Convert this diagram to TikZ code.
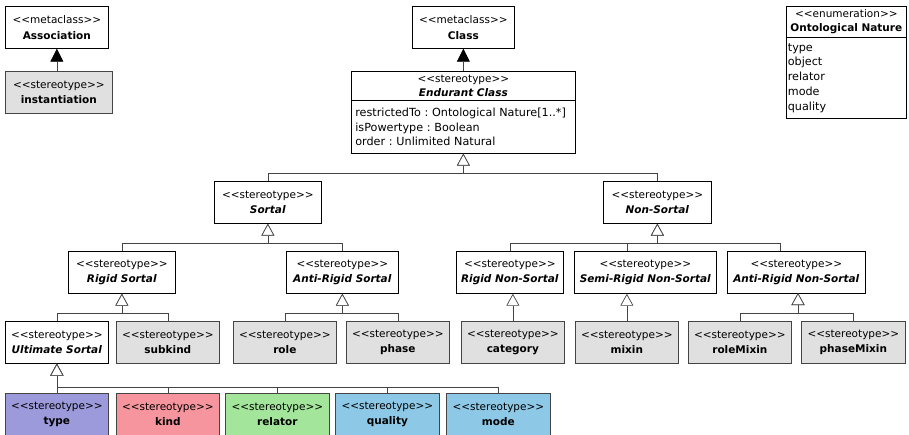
\documentclass[tikz,border=0pt]{standalone}
\usepackage{fontspec}
\setmainfont{DejaVu Sans}
\usetikzlibrary{arrows.meta}
\frenchspacing

% stereotype label: the kerns stop << and >> from becoming guillemet ligatures
\newcommand\stlabel[1]{<\kern0pt<#1>\kern0pt>}

\definecolor{boxgray}{HTML}{E0E0E0}
\definecolor{typefill}{HTML}{9C9ADB}
\definecolor{kindfill}{HTML}{F7959E}
\definecolor{relatorfill}{HTML}{A3E59B}
\definecolor{qualityfill}{HTML}{8DC8E6}
\definecolor{linegray}{HTML}{444444}

\tikzset{
  cls/.style={draw=black, line width=0.7pt, anchor=north west, align=center,
    inner sep=0pt, minimum height=42, fill=white,
    font=\fontsize{10.5}{15.5}\selectfont},
  stbox/.style={cls, fill=boxgray, draw=linegray},
  compart/.style={draw=black, line width=0.7pt, anchor=north west, inner sep=0pt,
    fill=white, font=\fontsize{10.5}{14.5}\selectfont},
  literals/.style={compart, font=\fontsize{11.2}{14.8}\selectfont, align=left},
  gen/.style={draw=linegray, line width=0.7pt,
    -{Triangle[fill=white, width=13pt, length=12pt]}},
  assoc/.style={draw=linegray, line width=0.7pt,
    -{Triangle[width=13pt, length=13pt, color=black]}},
}

\begin{document}
\begin{tikzpicture}[x=1pt, y=-1pt]
\useasboundingbox (0,0) rectangle (909,435);

% metaclasses
\node[cls, minimum width=103] (association) at (5,6)
  {\stlabel{metaclass}\\\textbf{Association}};
\node[stbox, minimum width=107] (instantiation) at (5,71)
  {\stlabel{stereotype}\\\textbf{instantiation}};
\node[cls, minimum width=102] (class) at (412,6)
  {\stlabel{metaclass}\\\textbf{Class}};

% Endurant Class with its attribute compartment
\node[compart, minimum width=224, minimum height=29, align=center] (endurant) at (351,71)
  {\stlabel{stereotype}\\\textbf{\textit{Endurant Class}}};
\node[literals, text width=216, minimum height=53, inner xsep=4] (endattr) at (351,100)
  {restrictedTo : Ontological Nature[1..*]\\isPowertype : Boolean\\order : Unlimited Natural};

% enumeration
\node[compart, minimum width=120, minimum height=31, align=center] (enumhead) at (786,6)
  {\stlabel{enumeration}\\\textbf{Ontological Nature}};
\node[literals, text width=117, minimum height=81, inner xsep=1.5] (enumlits) at (786,37)
  {type\\object\\relator\\mode\\quality};

% second level
\node[cls, minimum width=107] (sortal) at (214,181)
  {\stlabel{stereotype}\\\textbf{\textit{Sortal}}};
\node[cls, minimum width=108] (nonsortal) at (603,181)
  {\stlabel{stereotype}\\\textbf{\textit{Non-Sortal}}};

% third level
\node[cls, minimum width=107] (rigid) at (68,251)
  {\stlabel{stereotype}\\\textbf{\textit{Rigid Sortal}}};
\node[cls, minimum width=112] (antirigid) at (286,251)
  {\stlabel{stereotype}\\\textbf{\textit{Anti-Rigid Sortal}}};
\node[cls, minimum width=107] (rigidns) at (456,251)
  {\stlabel{stereotype}\\\textbf{\textit{Rigid Non-Sortal}}};
\node[cls, minimum width=142] (semins) at (574,251)
  {\stlabel{stereotype}\\\textbf{\textit{Semi-Rigid Non-Sortal}}};
\node[cls, minimum width=138] (antins) at (727,251)
  {\stlabel{stereotype}\\\textbf{\textit{Anti-Rigid Non-Sortal}}};

% fourth level
\node[cls, minimum width=103] (ultimate) at (5,321)
  {\stlabel{stereotype}\\\textbf{\textit{Ultimate Sortal}}};
\node[stbox, minimum width=103] (subkind) at (116,321)
  {\stlabel{stereotype}\\\textbf{subkind}};
\node[stbox, minimum width=103] (role) at (233,321)
  {\stlabel{stereotype}\\\textbf{role}};
\node[stbox, minimum width=103] (phase) at (346,321)
  {\stlabel{stereotype}\\\textbf{phase}};
\node[stbox, minimum width=103] (category) at (461,321)
  {\stlabel{stereotype}\\\textbf{category}};
\node[stbox, minimum width=103] (mixin) at (575,321)
  {\stlabel{stereotype}\\\textbf{mixin}};
\node[stbox, minimum width=103] (rolemixin) at (688,321)
  {\stlabel{stereotype}\\\textbf{roleMixin}};
\node[stbox, minimum width=104] (phasemixin) at (801,321)
  {\stlabel{stereotype}\\\textbf{phaseMixin}};

% ultimate sortals
\node[stbox, fill=typefill, minimum width=103] (type) at (5,393)
  {\stlabel{stereotype}\\\textbf{type}};
\node[stbox, fill=kindfill, minimum width=103] (kind) at (116,393)
  {\stlabel{stereotype}\\\textbf{kind}};
\node[stbox, fill=relatorfill, minimum width=104] (relator) at (225,393)
  {\stlabel{stereotype}\\\textbf{relator}};
\node[stbox, fill=qualityfill, minimum width=104] (quality) at (335,393)
  {\stlabel{stereotype}\\\textbf{quality}};
\node[stbox, fill=qualityfill, minimum width=104] (mode) at (446,393)
  {\stlabel{stereotype}\\\textbf{mode}};

% instantiation / extension arrows
\draw[assoc] (instantiation.north -| association.south) -- (association.south);
\draw[assoc] (endurant.north -| class.south) -- (class.south);

% bar junctions and off-centre attachment points
\coordinate (jEnd) at (endattr.south |- 0,173);
\coordinate (jSort) at (sortal.south |- 0,243);
\coordinate (jNon) at (nonsortal.south |- 0,243);
\coordinate (jRig) at (rigid.south |- 0,313);
\coordinate (jAnti) at (antirigid.south |- 0,313);
\coordinate (jAntiNS) at (798,313);
\coordinate (jUlt) at (ultimate.south |- 0,387);
\coordinate (semiTop) at (mixin.north |- semins.north);
\coordinate (antiTop) at (780,251);
\coordinate (semiBot) at (mixin.north |- semins.south);
\coordinate (antiBot) at (798,293);

% generalizations
\draw[gen] (sortal.north) |- (jEnd) -- (endattr.south);
\draw[gen] (nonsortal.north) |- (jEnd) -- (endattr.south);

\draw[gen] (rigid.north) |- (jSort) -- (sortal.south);
\draw[gen] (antirigid.north) |- (jSort) -- (sortal.south);

\draw[gen] (rigidns.north) |- (jNon) -- (nonsortal.south);
\draw[gen] (semiTop) |- (jNon) -- (nonsortal.south);
\draw[gen] (antiTop) |- (jNon) -- (nonsortal.south);

\draw[gen] (ultimate.north) |- (jRig) -- (rigid.south);
\draw[gen] (subkind.north) |- (jRig) -- (rigid.south);

\draw[gen] (role.north) |- (jAnti) -- (antirigid.south);
\draw[gen] (phase.north) |- (jAnti) -- (antirigid.south);

\draw[gen] (category.north) -- (category.north |- rigidns.south);
\draw[gen] (mixin.north) -- (semiBot);

\draw[gen] (rolemixin.north) |- (jAntiNS) -- (antiBot);
\draw[gen] (phasemixin.north) |- (jAntiNS) -- (antiBot);

\draw[gen] (type.north) |- (jUlt) -- (ultimate.south);
\draw[gen] (kind.north) |- (jUlt) -- (ultimate.south);
\draw[gen] (relator.north) |- (jUlt) -- (ultimate.south);
\draw[gen] (quality.north) |- (jUlt) -- (ultimate.south);
\draw[gen] (mode.north) |- (jUlt) -- (ultimate.south);
\end{tikzpicture}
\end{document}
